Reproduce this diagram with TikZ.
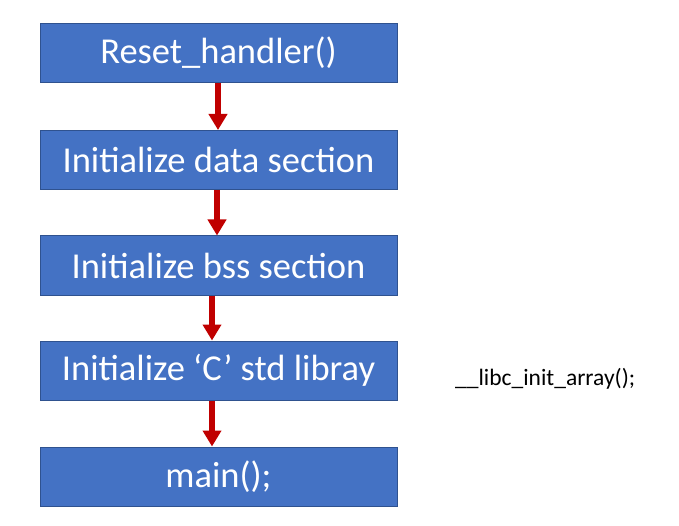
\documentclass[tikz,border=0pt]{standalone}
\usepackage{fontspec}
\setmainfont{Carlito}
\usetikzlibrary{arrows.meta}
\definecolor{boxblue}{HTML}{4472C4}
\definecolor{boxedge}{HTML}{2F528F}
\definecolor{arrred}{HTML}{C00000}
\tikzset{
  stepbox/.style={draw=boxedge, line width=1pt, fill=boxblue, text=white,
    minimum width=357pt, minimum height=59pt, inner sep=0pt,
    font=\fontsize{36.5}{40}\selectfont},
  flowarr/.style={draw=arrred, line width=6pt,
    -{Triangle[width=18pt,length=16pt]}},
}
\begin{document}
\begin{tikzpicture}[x=1pt,y=-1pt]
\useasboundingbox (0,0) rectangle (679,526);
\node[stepbox] (b1) at (218.5,53) {Reset\_handler()};
\node[stepbox] (b2) at (218.5,160) {Initialize data section};
\node[stepbox] (b3) at (218.5,265.5) {Initialize bss section};
\node[stepbox] (b4) at (218.5,370.5) {Initialize ‘C’ std libray};
\node[stepbox] (b5) at (218.5,476.5) {main();};
\node[font=\fontsize{23.5}{27}\selectfont, anchor=base west, inner sep=0pt] (lib) at (455,385) {\_\_libc\_init\_array();};
\draw[flowarr] ([xshift=-0.5pt]b1.south) -- ([xshift=-0.5pt]b2.north);
\draw[flowarr] ([xshift=-1.5pt]b2.south) -- ([xshift=-1.5pt]b3.north);
\draw[flowarr] ([xshift=-6.5pt]b3.south) -- ([xshift=-6.5pt]b4.north);
\draw[flowarr] ([xshift=-6.5pt]b4.south) -- ([xshift=-6.5pt]b5.north);
\end{tikzpicture}
\end{document}
